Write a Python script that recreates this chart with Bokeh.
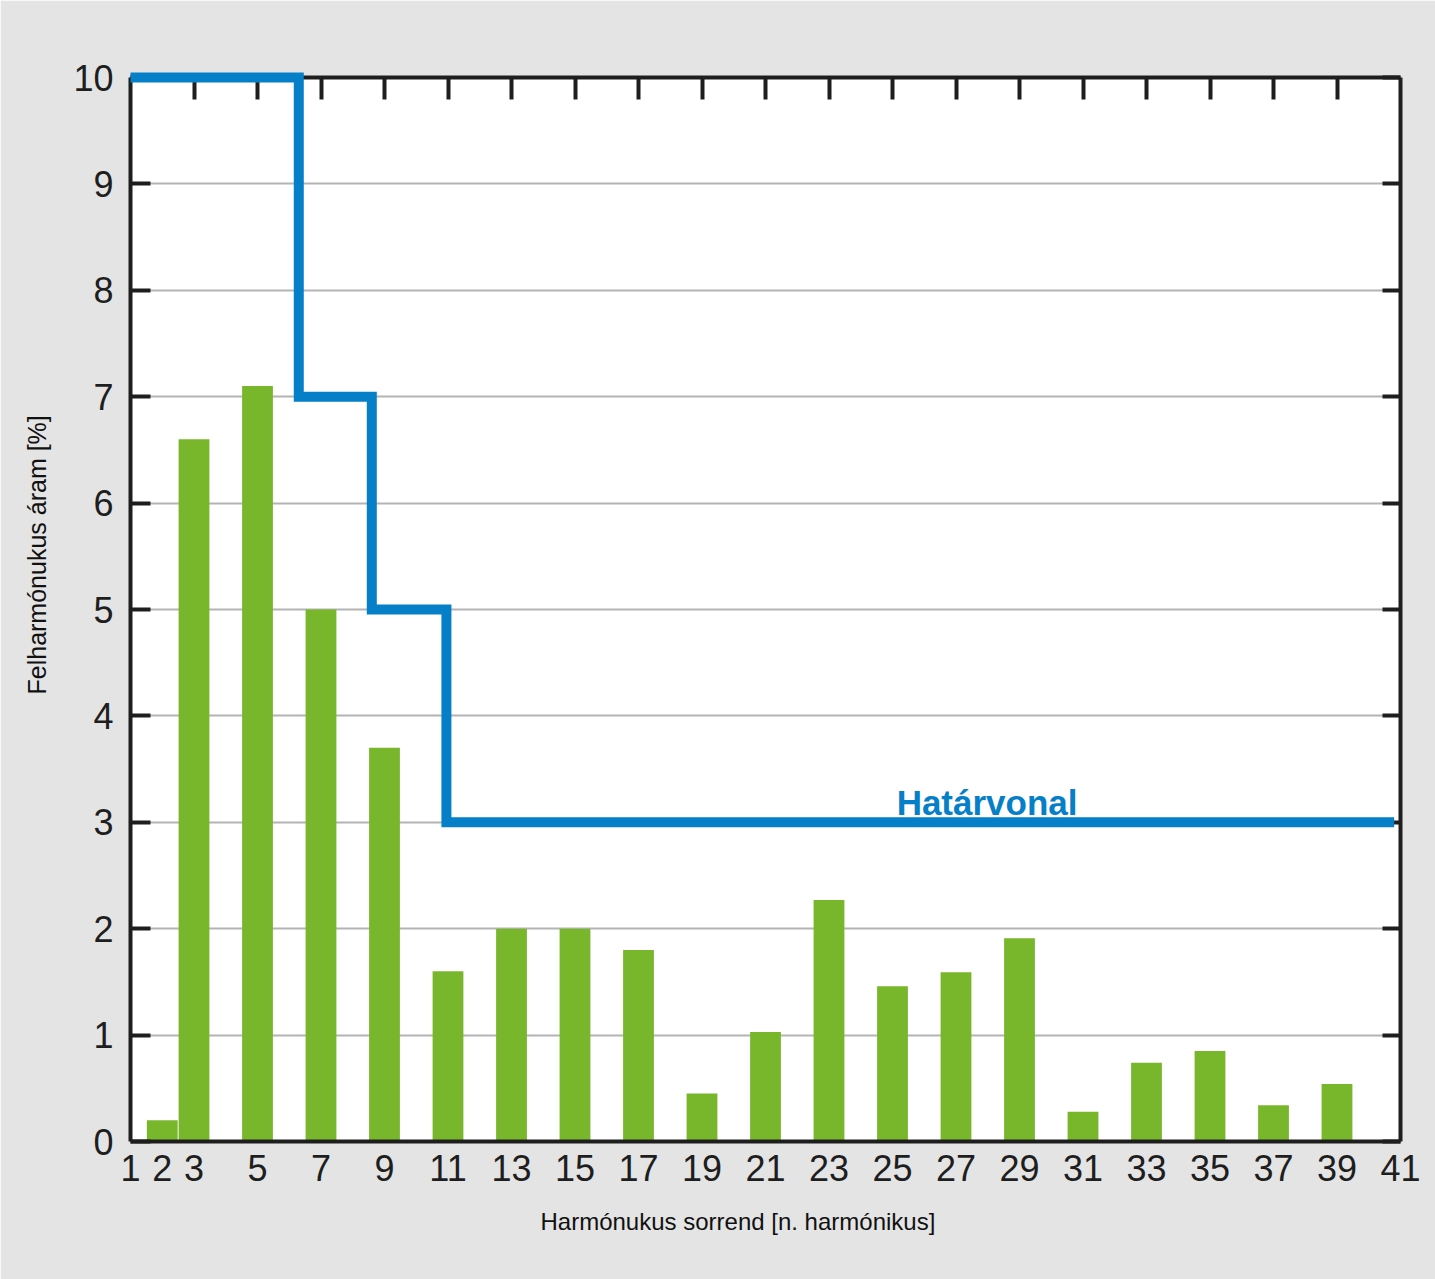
import math
from bokeh.plotting import figure
from bokeh.models import LinearAxis, FixedTicker, Label, Range1d, Title
from bokeh.embed import file_html
from bokeh.resources import INLINE

# ---- data ----
harmonics = [2, 3, 5, 7, 9, 11, 13, 15, 17, 19, 21, 23, 25, 27, 29, 31, 33, 35, 37, 39]
current_pct = [0.2, 6.6, 7.1, 5.0, 3.7, 1.6, 2.0, 2.0, 1.8, 0.45, 1.03, 2.27, 1.46, 1.59,
               1.91, 0.28, 0.74, 0.85, 0.34, 0.54]
limit_x = [1, 6.3, 6.3, 8.6, 8.6, 10.95, 10.95, 40.8]
limit_y = [10, 10, 7, 7, 5, 5, 3, 3]
x_ticks = [1, 2, 3, 5, 7, 9, 11, 13, 15, 17, 19, 21, 23, 25, 27, 29, 31, 33, 35, 37, 39, 41]
top_ticks = [3, 5, 7, 9, 11, 13, 15, 17, 19, 21, 23, 25, 27, 29, 31, 33, 35, 37, 39]
y_ticks = [0, 1, 2, 3, 4, 5, 6, 7, 8, 9, 10]
x_title = "Harmónukus sorrend [n. harmónikus]"
y_title = "Felharmónukus áram [%]"
limit_label = "Határvonal"

FONT = "Liberation Sans"
BG = "#e4e4e4"
GREEN = "#78b72c"
BLUE = "#0580c8"
DARK = "#1e1e1e"

p = figure(width=1435, height=1279, output_backend="svg", toolbar_location=None,
           x_range=Range1d(1, 41), y_range=Range1d(0, 10),
           min_border_left=130, min_border_right=35, min_border_top=77, min_border_bottom=138)
p.border_fill_color = BG
p.background_fill_color = "white"
p.outline_line_color = None

# grid
p.xgrid.grid_line_color = None
p.ygrid.ticker = FixedTicker(ticks=y_ticks)
p.ygrid.grid_line_color = "#b4b4b4"
p.ygrid.grid_line_width = 2

# bars
p.vbar(x=harmonics, top=current_pct, width=0.97, bottom=0, fill_color=GREEN, line_color=None)

# limit line
lr = p.line(limit_x, limit_y, line_color=BLUE, line_width=10, line_join="miter", line_cap="butt")
lr.level = "overlay"

# left axis
ya = p.yaxis[0]
ya.ticker = FixedTicker(ticks=y_ticks)
ya.major_tick_in = 20
ya.major_tick_out = 0
ya.minor_tick_line_color = None
ya.axis_line_width = 4
ya.axis_line_color = DARK
ya.major_tick_line_width = 4
ya.major_tick_line_color = DARK
ya.major_label_text_font = FONT
ya.major_label_text_font_size = "36px"
ya.major_label_text_color = DARK
ya.major_label_standoff = 17

# bottom axis
xa = p.xaxis[0]
xa.ticker = FixedTicker(ticks=x_ticks)
xa.major_tick_in = 0
xa.major_tick_out = 0
xa.minor_tick_line_color = None
xa.axis_line_width = 4
xa.axis_line_color = DARK
xa.major_label_text_font = FONT
xa.major_label_text_font_size = "36px"
xa.major_label_text_color = DARK
xa.major_label_standoff = 13

# right axis (inward ticks, no labels)
ra = LinearAxis(ticker=FixedTicker(ticks=y_ticks))
ra.major_tick_in = 18
ra.major_tick_out = 0
ra.minor_tick_line_color = None
ra.axis_line_width = 4
ra.axis_line_color = DARK
ra.major_tick_line_width = 4
ra.major_tick_line_color = DARK
ra.major_label_overrides = {t: "" for t in y_ticks}
ra.major_label_standoff = 0
p.add_layout(ra, "right")

# top axis (inward ticks, no labels)
ta = LinearAxis(ticker=FixedTicker(ticks=top_ticks))
ta.major_tick_in = 22
ta.major_tick_out = 0
ta.minor_tick_line_color = None
ta.axis_line_width = 4
ta.axis_line_color = DARK
ta.major_tick_line_width = 4
ta.major_tick_line_color = DARK
ta.major_label_overrides = {t: "" for t in top_ticks}
ta.major_label_standoff = 0
p.add_layout(ta, "above")

# axis titles as side titles
p.add_layout(Title(text=x_title, align="left", offset=410, standoff=44,
                   text_font=FONT, text_font_size="24px", text_font_style="normal",
                   text_color="#111111"), "below")
p.add_layout(Title(text=y_title, align="left", offset=447, standoff=40,
                   text_font=FONT, text_font_size="25px", text_font_style="normal",
                   text_color="#111111"), "left")

# limit label
p.add_layout(Label(x=25.13, y=3.19, text=limit_label, text_font=FONT,
                   text_font_size="35px", text_font_style="bold", text_color=BLUE,
                   text_align="left", text_baseline="alphabetic"))

open("out.html", "w").write(file_html(p, INLINE))
